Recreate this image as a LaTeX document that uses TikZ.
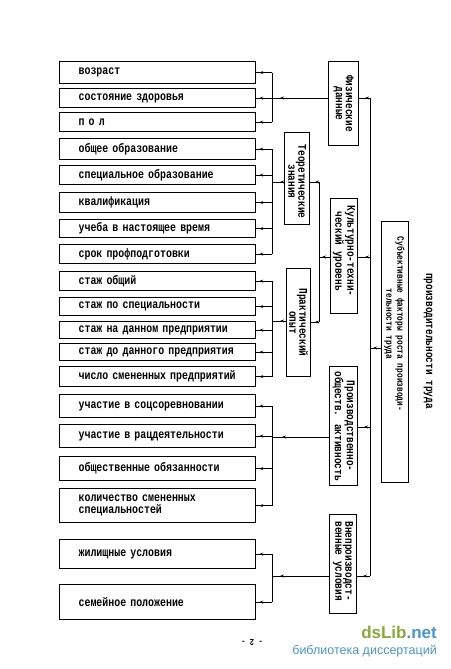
\documentclass[tikz,border=0pt]{standalone}
\usepackage{fontspec}
\setmainfont{Liberation Serif}
\newfontfamily\tw[FakeStretch=0.8]{Liberation Mono}
\newfontfamily\wm{Liberation Sans}
\usetikzlibrary{arrows.meta,decorations.markings}
\definecolor{wmgreen}{RGB}{134,170,62}
\definecolor{wmblue}{RGB}{74,150,200}
\begin{document}
\begin{tikzpicture}[x=1pt,y=-1pt,
  rowbox/.style={draw, line width=1.2pt, anchor=north west, text width=158pt, inner xsep=19pt, inner ysep=0pt, align=left, font=\tw\bfseries\fontsize{12.4}{12}\selectfont},
  vbox/.style={draw, line width=1.2pt, anchor=north west, inner sep=0pt},
  vtext/.style={rotate=-90, align=center, inner sep=0pt, font=\tw\bfseries\fontsize{11.8}{10}\selectfont},
  conn/.style={line width=0.9pt},
  tipat/.style={postaction={decorate}, decoration={markings, mark=at position #1 with {\arrow{Stealth[length=4pt,width=3pt]}}}}
]
\useasboundingbox[fill=white] (0,0) rectangle (450,669);

% row boxes
\node[rowbox, minimum height=22] (r1) at (59,61) {возраст};
\node[rowbox, minimum height=19] (r2) at (59,88) {состояние здоровья};
\node[rowbox, minimum height=19] (r3) at (59,112) {п о л};
\node[rowbox, minimum height=21] (r4) at (59,138) {общее образование};
\node[rowbox, minimum height=19] (r5) at (59,165) {специальное образование};
\node[rowbox, minimum height=20] (r6) at (59,192) {квалификация};
\node[rowbox, minimum height=18] (r7) at (59,219) {учеба в настоящее время};
\node[rowbox, minimum height=19] (r8) at (59,244) {срок профподготовки};
\node[rowbox, minimum height=19] (r9) at (59,271) {стаж общий};
\node[rowbox, minimum height=18] (r10) at (59,297) {стаж по специальности};
\node[rowbox, minimum height=17] (r11) at (59,321) {стаж на данном предприятии};
\node[rowbox, minimum height=17] (r12) at (59,343) {стаж до данного предприятия};
\node[rowbox, minimum height=20] (r13) at (59,366) {число смененных предприятий};
\node[rowbox, minimum height=23] (r14) at (59,394) {участие в соцсоревновании};
\node[rowbox, minimum height=23] (r15) at (59,424) {участие в рацдеятельности};
\node[rowbox, minimum height=24] (r16) at (59,456) {общественные обязанности};
\node[rowbox, minimum height=34] (r17) at (59,488) {количество смененных\\специальностей};
\node[rowbox, minimum height=29] (r18) at (59,539) {жилищные условия};
\node[rowbox, minimum height=35] (r19) at (59,584) {семейное положение};

% vertical boxes
\node[vbox, minimum width=30, minimum height=84] (fiz) at (328,61) {};
\node[vbox, minimum width=25, minimum height=92] (teor) at (284,132) {};
\node[vbox, minimum width=27, minimum height=115] (kult) at (330,198) {};
\node[vbox, minimum width=24, minimum height=108] (prak) at (286,268) {};
\node[vbox, minimum width=28, minimum height=119] (proizv) at (329,366) {};
\node[vbox, minimum width=27, minimum height=99] (vne) at (329,514) {};
\node[vbox, minimum width=27, minimum height=261] (subj) at (381,221) {};

\node[vtext] (fizT) at (fiz.center) {Физические\\данные};
\node[vtext] (teorT) at ([yshift=-3]teor.center) {Теоретические\\знания};
\node[vtext] (kultT) at ([yshift=5]kult.center) {Культурно-техни-\\ческий уровень};
\node[vtext] (prakT) at (prak.center) {Практический\\опыт};
\node[vtext] (proizvT) at (proizv.center) {Производственно-\\обществ. активность};
\node[vtext] (vneT) at ([yshift=3]vne.center) {Внепроизводст-\\венные условия};
\node[vtext, font=\tw\bfseries\fontsize{9.8}{11}\selectfont] (subjT) at (394.5,324) {Субъективные факторы роста производи-\\тельности труда};
\node[rotate=-90, inner sep=0pt, font=\tw\bfseries\fontsize{11.8}{12}\selectfont] (title) at (428,341) {производительности труда};

% bus coordinates
\coordinate (aF) at (272,98);
\coordinate (aT) at (272,182);
\coordinate (aP) at (272,321);
\coordinate (aA) at (272,437);
\coordinate (aV) at (272,576);
\coordinate (bT) at (319,182);
\coordinate (bK) at (319,257);
\coordinate (bP) at (319,322);
\coordinate (mF) at (370,98);
\coordinate (mK) at (370,257);
\coordinate (mS) at (370,348);
\coordinate (mA) at (370,427);
\coordinate (mV) at (370,576);

% left buses
\draw[conn] (aF |- r1.east) -- (aF |- r3.east);
\foreach \r in {r1,r2,r3} \draw[conn, tipat=-3pt] (aF |- \r.east) -- (\r.east);
\draw[conn, tipat=-8pt] (fiz.west |- aF) -- (aF);

\draw[conn] (aT |- r4.east) -- (aT |- r8.east);
\foreach \r in {r4,r5,r6,r7,r8} \draw[conn, tipat=-3pt] (aT |- \r.east) -- (\r.east);
\draw[conn, tipat=-8pt] (teor.west |- aT) -- (aT);

\draw[conn] (aP |- r9.east) -- (aP |- r13.east);
\foreach \r in {r9,r10,r11,r12,r13} \draw[conn, tipat=-3pt] (aP |- \r.east) -- (\r.east);
\draw[conn, tipat=-8pt] (prak.west |- aP) -- (aP);

\draw[conn] (aA |- r14.east) -- (aA |- r17.east);
\foreach \r in {r14,r15,r16,r17} \draw[conn, tipat=-3pt] (aA |- \r.east) -- (\r.east);
\draw[conn, tipat=-10pt] (proizv.west |- aA) -- (aA);

\draw[conn] (aV |- r18.east) -- (aV |- r19.east);
\foreach \r in {r18,r19} \draw[conn, tipat=-3pt] (aV |- \r.east) -- (\r.east);
\draw[conn, tipat=-8pt] (vne.west |- aV) -- (aV);

% middle bus
\draw[conn] (bT) -- (bP);
\draw[conn, tipat=4pt] (bT) -- (teor.east |- bT);
\draw[conn, tipat=4pt] (bP) -- (prak.east |- bP);
\draw[conn, tipat=-3pt] (kult.west |- bK) -- (bK);

% main bus
\draw[conn] (mF) -- (mV);
\draw[conn, tipat=5pt] (mF) -- (fiz.east |- mF);
\draw[conn, tipat=5pt] (mK) -- (kult.east |- mK);
\draw[conn, tipat=6pt] (mA) -- (proizv.east |- mA);
\draw[conn, tipat=7pt] (mV) -- (vne.east |- mV);
\draw[conn, tipat=-3pt] (subj.west |- mS) -- (mS);

% page number and watermark
\node[rotate=180, inner sep=0pt, font=\tw\bfseries\fontsize{9}{9}\selectfont] (pg) at (252,643) {- 2 -};
\node[anchor=east, inner sep=0pt, font=\wm\bfseries\fontsize{17}{17}\selectfont] (wm1) at (437,632) {\textcolor{wmgreen}{dsLib}\textcolor{wmblue}{.net}};
\node[anchor=east, inner sep=0pt, text=wmblue, font=\wm\fontsize{12.5}{13}\selectfont] (wm2) at (437,651) {библиотека диссертаций};
\end{tikzpicture}
\end{document}
